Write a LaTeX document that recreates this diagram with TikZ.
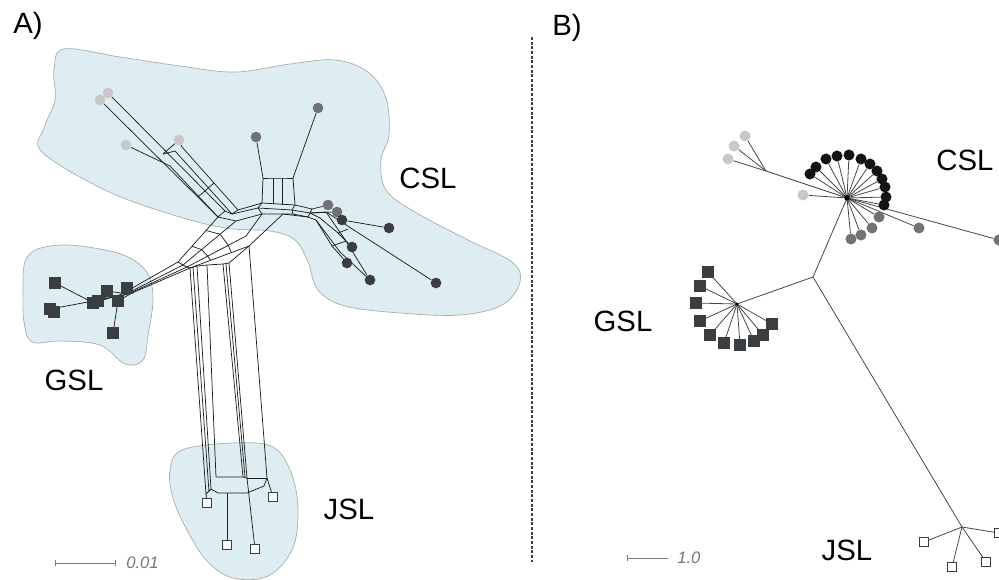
\documentclass[tikz,border=0pt]{standalone}
\usepackage{fontspec}
\setmainfont{Liberation Sans}
\usetikzlibrary{calc}
\pgfdeclarelayer{bg}
\pgfdeclarelayer{mid}
\pgfsetlayers{bg,mid,main}
\definecolor{regfill}{RGB}{221,237,241}
\definecolor{regline}{RGB}{165,172,175}
\definecolor{lgray}{RGB}{200,200,200}
\definecolor{mgray}{RGB}{112,114,116}
\definecolor{dgray}{RGB}{58,62,65}
\definecolor{netline}{RGB}{30,30,30}
\definecolor{bline}{RGB}{70,70,70}
\definecolor{sgray}{RGB}{120,120,120}
\begin{document}
\begin{tikzpicture}[x=0.75pt,y=-0.75pt,
  region/.style={fill=regfill, draw=regline, line width=0.5pt},
  net/.style={draw=netline, line width=0.55pt, line join=round},
  bnet/.style={draw=bline, line width=0.6pt},
  lc/.style={circle, fill=lgray, inner sep=0pt, minimum size=8pt},
  mc/.style={circle, fill=mgray, inner sep=0pt, minimum size=8pt},
  dc/.style={circle, fill=dgray, inner sep=0pt, minimum size=8pt},
  kc/.style={circle, fill=black!92, inner sep=0pt, minimum size=8.3pt},
  blc/.style={circle, fill=lgray, inner sep=0pt, minimum size=8.3pt},
  bmc/.style={circle, fill=mgray, inner sep=0pt, minimum size=8.3pt},
  dsq/.style={rectangle, fill=dgray, inner sep=0pt, minimum size=8.5pt},
  bsq/.style={rectangle, fill=dgray, inner sep=0pt, minimum size=8.3pt},
  osq/.style={rectangle, draw=dgray, fill=white, line width=0.6pt, inner sep=0pt, minimum size=6.8pt},
  lab/.style={font=\fontsize{22}{26}\selectfont, text=black, inner sep=0pt},
  slab/.style={font=\fontsize{12.5}{15}\selectfont\itshape, text=sgray, inner sep=0pt, anchor=west},
  sbar/.style={draw=sgray, line width=0.6pt}
]
\useasboundingbox (0,0) rectangle (999,579);

% ---------------- regions (panel A)
\begin{pgfonlayer}{bg}
\draw[region] plot[smooth cycle, tension=0.6] coordinates {
  (64,49) (120,57) (180,66) (235,72) (290,64) (335,60) (368,72) (386,98)
  (389,135) (381,160) (386,190) (415,212) (468,240) (512,262) (520,282)
  (502,305) (460,315) (400,313) (345,306) (318,290) (308,262) (295,240)
  (270,231) (225,228) (170,214) (105,190) (42,152) (44,128) (55,100) (54,70)};
\draw[region] plot[smooth cycle, tension=0.6] coordinates {
  (25,262) (38,249) (67,245) (105,250) (130,258) (148,274) (153,300)
  (148,335) (143,360) (125,364) (100,345) (60,341) (32,342) (24,322) (23,292)};
\draw[region] plot[smooth cycle, tension=0.6] coordinates {
  (170,470) (182,450) (233,443) (273,447) (292,475) (298,513) (292,550)
  (268,576) (233,578) (207,561) (187,530) (173,498)};
\end{pgfonlayer}

% ---------------- tips panel A
\node[lc] (c1) at (108,93) {};
\node[lc] (c2) at (100,100) {};
\node[lc] (c3) at (126,145) {};
\node[lc] (c4) at (179,140) {};
\node[mc] (m1) at (256,137) {};
\node[mc] (m2) at (318,108) {};
\node[mc] (m3) at (328,205) {};
\node[mc] (m4) at (337,212) {};
\node[dc] (d1) at (342,220) {};
\node[dc] (d2) at (389,228) {};
\node[dc] (d3) at (352,247) {};
\node[dc] (d4) at (347,263) {};
\node[dc] (d5) at (370,280) {};
\node[dc] (d6) at (436,283) {};
\node[dsq] (s1) at (55,283) {};
\node[dsq] (s2) at (50,309) {};
\node[dsq] (s2b) at (54,312) {};
\node[dsq] (s3) at (107,291) {};
\node[dsq] (s4) at (127,288) {};
\node[dsq] (s5) at (98,301) {};
\node[dsq] (s8) at (93,303) {};
\node[dsq] (s6) at (118,301) {};
\node[dsq] (s7) at (113,333) {};
\node[osq] (j1) at (207,503) {};
\node[osq] (j2) at (273,497) {};
\node[osq] (j3) at (227,545) {};
\node[osq] (j4) at (255,549) {};

% internal points panel A
\coordinate (ua) at (225,211);
\coordinate (ub) at (218,217);
\coordinate (uc) at (238,210);
\coordinate (ud) at (232,214);
\coordinate (ue) at (182,147);
\coordinate (uf) at (175,151);
\coordinate (ug) at (163,154);
\coordinate (uh) at (170,166);
\coordinate (ri1) at (198,197);
\coordinate (ri2) at (214,183);
\coordinate (a01) at (262,203);
\coordinate (a02) at (295,205);
\coordinate (a03) at (312,209);
\coordinate (a11) at (258,208);
\coordinate (a12) at (292,210);
\coordinate (a13) at (310,213);
\coordinate (a14) at (326,212);
\coordinate (a20) at (236,221);
\coordinate (a21) at (262,214);
\coordinate (a22) at (293,214);
\coordinate (a23) at (308,217);
\coordinate (bx1) at (263,178);
\coordinate (bx3) at (273,178);
\coordinate (bx4) at (282,178);
\coordinate (bx2) at (293,178);
\coordinate (bx5) at (273,204);
\coordinate (bx6) at (282,205);
\coordinate (rb1) at (320,218);
\coordinate (rb2) at (338,233);
\coordinate (rb3) at (316,220);
\coordinate (rb4) at (332,246);
\coordinate (rb5) at (346,241);
\coordinate (rb7) at (340,252);
\coordinate (rb8) at (348,229);
\coordinate (gl0) at (120,295);
\coordinate (gl1) at (124,295);
\coordinate (gl2) at (128,294);
\coordinate (gl3) at (132,293);
\coordinate (gm0) at (178,262);
\coordinate (gm1) at (183,265);
\coordinate (gm2) at (187,267);
\coordinate (gm3) at (190,268);
\coordinate (gk2) at (246,236);
\coordinate (gk3) at (249,246);
\coordinate (gk4) at (283,214);
\coordinate (sg1) at (88,300);
\coordinate (sg2) at (72,305);
\coordinate (t1) at (197,266);
\coordinate (t2) at (207,265);
\coordinate (t3) at (223,264);
\coordinate (t4) at (229,263);
\coordinate (v0) at (206,494);
\coordinate (v1) at (211,489);
\coordinate (v2) at (216,477);
\coordinate (v3) at (243,477);
\coordinate (v4) at (247,478);
\coordinate (v5) at (267,478);
\coordinate (w1) at (218,493);
\coordinate (w2) at (247,493);
\coordinate (w3) at (264,486);
\coordinate (w4) at (227,493);
\coordinate (x1) at (193,267);
\coordinate (x2) at (209,492);
\coordinate (x3) at (226,264);
\coordinate (x4) at (245,477);

\begin{pgfonlayer}{mid}
% upper-left bundle
\draw[net] (c1) -- (ua);
\draw[net] (c2) -- (ub);
\draw[net] (c3) -- (uh) -- (ub);
\draw[net] (c4) -- (ue) -- (uc);
\draw[net] (ug) -- (uf) -- (ud);
\draw[net] (ug) -- (c4);
\draw[net] (ri1) -- (ri2);
\draw[net] (ub) -- (ua) -- (ud) -- (uc);
% arch
\draw[net] (uc) -- (a01) -- (a02) -- (a03) -- (m3);
\draw[net] (ud) -- (a11) -- (a12) -- (a13) -- (a14);
\draw[net] (ub) -- (a20) -- (a21) -- (a22) -- (a23);
\draw[net] (a01) -- (a11) -- (a21);
\draw[net] (a02) -- (a12) -- (a22);
\draw[net] (a03) -- (a13) -- (a23);
% medium-gray box
\draw[net] (m1) -- (bx1);
\draw[net] (m2) -- (bx2);
\draw[net] (bx1) -- (bx3) -- (bx4) -- (bx2);
\draw[net] (bx1) -- (a01);
\draw[net] (bx3) -- (bx5);
\draw[net] (bx4) -- (bx6);
\draw[net] (bx2) -- (a02);
% right bundle
\draw[net] (a13) -- (m4) -- (d1) -- (d2);
\draw[net] (a13) -- (rb1) -- (rb2) -- (d3);
\draw[net] (a23) -- (rb3) -- (rb4) -- (d4);
\draw[net] (a14) -- (rb5) -- (d5);
\draw[net] (rb3) -- (rb7) -- (d5);
\draw[net] (a14) -- (d6);
\draw[net] (rb2) -- (rb8);
\draw[net] (rb4) -- (rb5);
% GSL band
\draw[net] (gl0) -- (gm0) -- (ub);
\draw[net] (gl1) -- (gm1) -- (a20);
\draw[net] (gl2) -- (gm2) -- (gk2) -- (a21);
\draw[net] (gl3) -- (gm3) -- (gk3) -- (gk4) -- (a23);
\draw[net] (gm0) -- (gm1) -- (gm2) -- (gm3);
\foreach \f in {0.35,0.7}{
  \draw[net] ($(gm0)!\f!(ub)$) -- ($(gm1)!\f!(a20)$) -- ($(gm2)!\f!(gk2)$) -- ($(gm3)!\f!(gk3)$);
}
\draw[net] (gl0) -- (gl1) -- (gl2) -- (gl3);
\draw[net] (s1) -- (sg1) -- (gl0);
\draw[net] (s2) -- (sg2) -- (gl1);
\draw[net] (s7) -- (s6) -- (gl3);
\draw[net] (s8) -- (gl0);
\draw[net] (s3) -- (gl2);
\draw[net] (s4) -- (gl3);
% JSL band
\draw[net] (gm3) -- (t1) -- (t2) -- (t3) -- (t4) -- (gk3);
\draw[net] (gm3) -- (v0);
\draw[net] (x1) -- (x2);
\draw[net] (t1) -- (v1);
\draw[net] (t2) -- (v2);
\draw[net] (t3) -- (v3);
\draw[net] (x3) -- (x4);
\draw[net] (t4) -- (v4);
\draw[net] (gk3) -- (v5);
\draw[net] (v2) -- (v3) -- (v4);
\draw[net] (v4) -- (v5);
\draw[net] (v1) -- (w1) -- (w2) -- (w3) -- (v5);
\draw[net] (v0) -- (v1);
\draw[net] (v0) -- (j1);
\draw[net] (v5) -- (j2);
\draw[net] (w4) -- (j3);
\draw[net] (v4) -- (j4);
\end{pgfonlayer}

% ---------------- labels panel A
\node[lab] (lA) at (28,26) {A)};
\node[lab] (cslA) at (428,178) {CSL};
\node[lab] (gslA) at (74,380) {GSL};
\node[lab] (jslA) at (349,509) {JSL};
\coordinate (sa1) at (55,563);
\coordinate (sa2) at (115,563);
\draw[sbar] (sa1) -- (sa2);
\draw[sbar] ($(sa1)+(0,-3)$) -- ($(sa1)+(0,3)$);
\draw[sbar] ($(sa2)+(0,-3)$) -- ($(sa2)+(0,3)$);
\node[slab] (scA) at (126,563) {0.01};

% ---------------- divider
\coordinate (dv1) at (532,37);
\coordinate (dv2) at (532,562);
\draw[draw=black!75, line width=0.9pt, dash pattern=on 2.2pt off 1.3pt] (dv1) -- (dv2);

% ---------------- panel B
\node[lab] (lB) at (567,28) {B)};
\node[lab] (cslB) at (965,160) {CSL};
\node[lab] (gslB) at (623,321) {GSL};
\node[lab] (jslB) at (847,550) {JSL};
\coordinate (sb1) at (627,558);
\coordinate (sb2) at (668,558);
\draw[sbar] (sb1) -- (sb2);
\draw[sbar] ($(sb1)+(0,-3)$) -- ($(sb1)+(0,3)$);
\node[slab] (scB) at (677,558) {1.0};

\coordinate (H1) at (847,198);
\coordinate (H2) at (813,277);
\coordinate (G) at (737,304);
\coordinate (J) at (962,527);
\coordinate (LB) at (766,171);

\node[blc] (bl1) at (745,136) {};
\node[blc] (bl2) at (734,146) {};
\node[blc] (bl3) at (728,159) {};
\node[blc] (bl4) at (803,195) {};
\node[bmc] (bR) at (999,240) {};
\node[bmc] (bm1) at (879,217) {};
\node[bmc] (bm2) at (872,228) {};
\node[bmc] (bm3) at (861,235) {};
\node[bmc] (bm4) at (851,239) {};
\node[bmc] (bm5) at (919,228) {};
\node[kc] (k1) at (810,174) {};
\node[kc] (k2) at (816,167) {};
\node[kc] (k3) at (826,159) {};
\node[kc] (k4) at (837,156) {};
\node[kc] (k5) at (849,155) {};
\node[kc] (k6) at (861,159) {};
\node[kc] (k7) at (870,164) {};
\node[kc] (k8) at (877,171) {};
\node[kc] (k9) at (882,179) {};
\node[kc] (k10) at (885,187) {};
\node[kc] (k11) at (886,197) {};
\node[kc] (k12) at (884,205) {};
\node[bsq] (g1) at (708,272) {};
\node[bsq] (g2) at (700,286) {};
\node[bsq] (g3) at (696,303) {};
\node[bsq] (g4) at (700,321) {};
\node[bsq] (g5) at (710,335) {};
\node[bsq] (g6) at (724,343) {};
\node[bsq] (g7) at (740,345) {};
\node[bsq] (g8) at (754,341) {};
\node[bsq] (g9) at (763,335) {};
\node[bsq] (g10) at (772,324) {};
\node[osq] (o1) at (924,542) {};
\node[osq] (o2) at (952,567) {};
\node[osq] (o3) at (986,562) {};
\node[osq] (o4) at (999,533) {};

\begin{pgfonlayer}{mid}
\draw[bnet] (LB) -- (H1);
\draw[bnet] (H1) -- (bR);
\draw[bnet] (H1) -- (H2);
\draw[bnet] (H2) -- (G);
\draw[bnet] (H2) -- (J);
\foreach \n in {bl1,bl2,bl3}{ \draw[bnet] (LB) -- (\n); }
\foreach \n in {bl4,bm1,bm2,bm3,bm4,bm5,k1,k2,k3,k4,k5,k6,k7,k8,k9,k10,k11,k12}{ \draw[bnet] (H1) -- (\n); }
\foreach \n in {g1,g2,g3,g4,g5,g6,g7,g8,g9,g10}{ \draw[bnet] (G) -- (\n); }
\foreach \n in {o1,o2,o3,o4}{ \draw[bnet] (J) -- (\n); }
\fill[black] (H1) circle (2pt);
\fill[black] (G) circle (1.2pt);
\end{pgfonlayer}
\end{tikzpicture}
\end{document}
